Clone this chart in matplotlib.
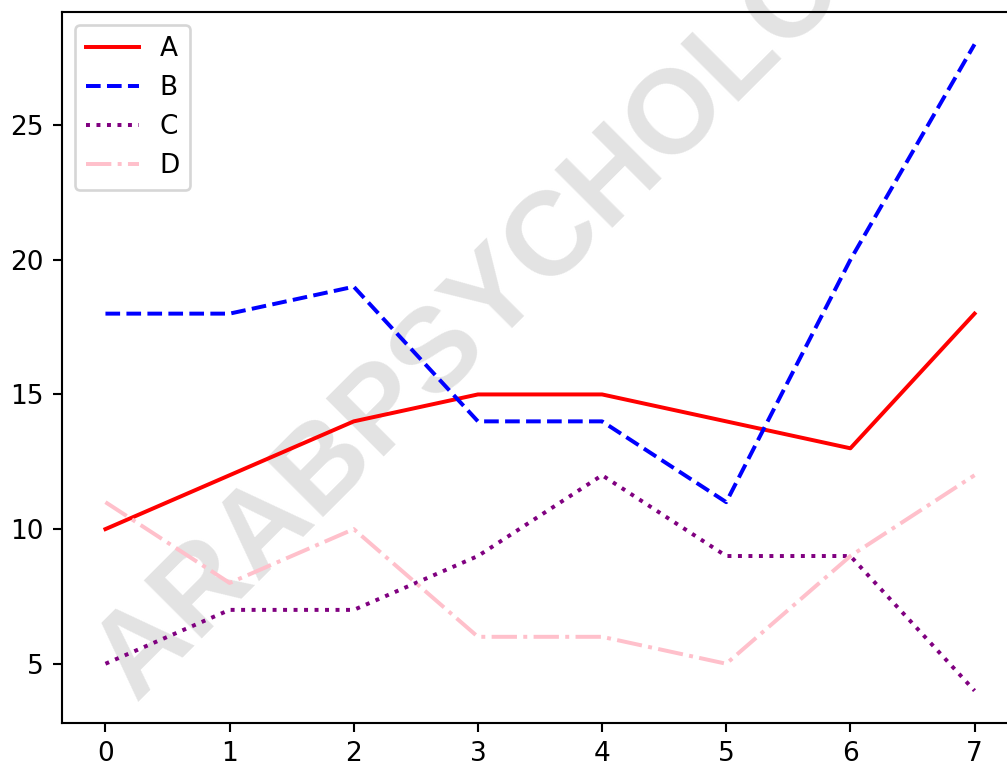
import matplotlib
matplotlib.use("Agg")
import matplotlib.pyplot as plt

x = [0, 1, 2, 3, 4, 5, 6, 7]
series_a = [10, 12, 14, 15, 15, 14, 13, 18]
series_b = [18, 18, 19, 14, 14, 11, 20, 28]
series_c = [5, 7, 7, 9, 12, 9, 9, 4]
series_d = [11, 8, 10, 6, 6, 5, 9, 12]

DPI = 190
fig = plt.figure(figsize=(1007 / DPI, 765 / DPI), dpi=DPI)
# axes run past the right edge of the canvas
ax = fig.add_axes([62 / 1007, 42 / 765, (1018 - 62) / 1007, (723 - 12) / 765])

ax.plot(x, series_a, color="red", linestyle="-", label="A")
ax.plot(x, series_b, color="blue", linestyle="--", label="B")
ax.plot(x, series_c, color="purple", linestyle=":", label="C")
ax.plot(x, series_d, color="pink", linestyle="-.", label="D")
ax.legend(loc="upper left")

# watermark sits under the lines
ax.text(135 / 1007, 1 - 702 / 765, "ARABPSYCHOLOGY", transform=fig.transFigure,
        rotation=45, rotation_mode="anchor", ha="left", va="baseline",
        family="Liberation Sans", fontsize=45, fontweight="bold",
        color="#e3e3e3", zorder=0.5, clip_on=False)

fig.savefig("out.png", dpi=DPI)
